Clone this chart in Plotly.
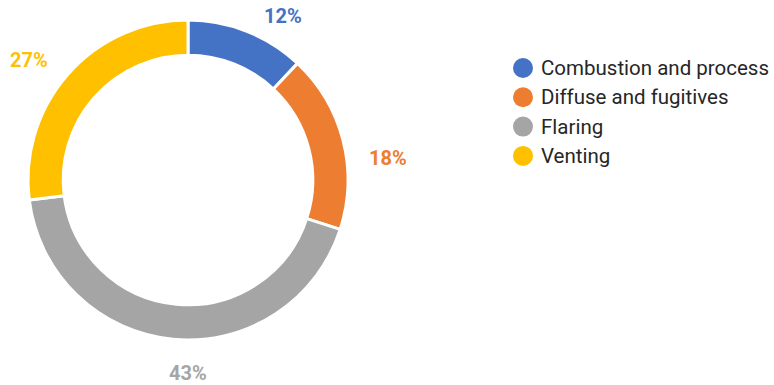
import math
import plotly.graph_objects as go

# Emission sources and their share of the total (%)
categories = ["Combustion and process", "Diffuse and fugitives", "Flaring", "Venting"]
shares = [12, 18, 43, 27]
colors = ["#4472C4", "#ED7D31", "#A5A5A5", "#FFC000"]

W, H = 774, 385
CX, CY, R = 188, 180, 160          # donut centre and outer radius (px)
HOLE = 0.78
LABEL_R = 190                      # radius at which percentage labels sit
label_nudge = [(25, 13), (16, 25), (18, 4), (-16, 6)]

# Legend layout (px)
LEG_X, LEG_Y, LEG_STEP, LEG_DOT = 523, 68, 29.3, 20

fig = go.Figure()
fig.add_trace(go.Pie(
    labels=categories,
    values=shares,
    marker=dict(colors=colors, line=dict(color="white", width=3)),
    hole=HOLE,
    sort=False,
    direction="clockwise",
    rotation=0,
    textinfo="none",
    hoverinfo="label+percent",
    showlegend=False,
    domain=dict(x=[(CX - R) / W, (CX + R) / W],
                y=[1 - (CY + R) / H, 1 - (CY - R) / H]),
))

# Percentage labels placed outside each slice at its mid-angle
total = sum(shares)
annotations = []
cum = 0
for val, col, (nx, ny) in zip(shares, colors, label_nudge):
    mid = (cum + val / 2) / total * 2 * math.pi
    cum += val
    px = CX + LABEL_R * math.sin(mid) + nx
    py = CY - LABEL_R * math.cos(mid) + ny
    annotations.append(dict(
        x=px / W, y=1 - py / H, xref="paper", yref="paper",
        text=f"{round(val / total * 100)}%", showarrow=False,
        xanchor="center", yanchor="middle",
        font=dict(family="Roboto", size=20, color=col, weight="bold"),
    ))

# Legend: round swatches with category names
shapes = []
for i, (cat, col) in enumerate(zip(categories, colors)):
    yc = 1 - (LEG_Y + i * LEG_STEP) / H
    shapes.append(dict(
        type="circle", xref="paper", yref="paper",
        xsizemode="pixel", ysizemode="pixel",
        xanchor=LEG_X / W, yanchor=yc,
        x0=-LEG_DOT / 2, x1=LEG_DOT / 2, y0=-LEG_DOT / 2, y1=LEG_DOT / 2,
        fillcolor=col, line=dict(width=0),
    ))
    annotations.append(dict(
        x=(LEG_X + 16) / W, y=yc, xref="paper", yref="paper",
        text=cat, showarrow=False, xanchor="left", yanchor="middle",
        font=dict(family="Roboto", size=20.5, color="#262626"),
    ))

fig.update_layout(
    width=W, height=H,
    margin=dict(l=0, r=0, t=0, b=0),
    paper_bgcolor="white", plot_bgcolor="white",
    annotations=annotations,
    shapes=shapes,
    showlegend=False,
)

fig.write_html("out.html")
